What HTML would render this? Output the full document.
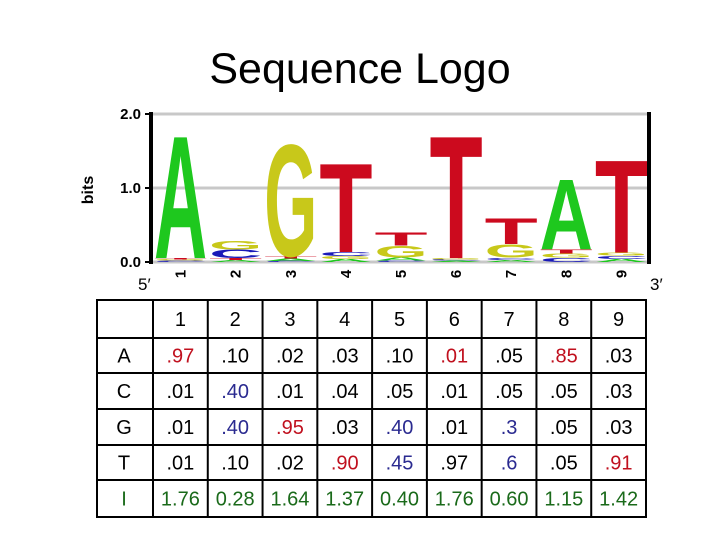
<!DOCTYPE html>
<html><head><meta charset="utf-8"><style>
body{margin:0;background:#fff;}
svg{display:block;font-family:"Liberation Sans",sans-serif;}
</style></head><body>
<svg width="720" height="540" viewBox="0 0 720 540">
<text x="360" y="83" font-size="43" text-anchor="middle">Sequence Logo</text>
<g id="logo"></g>
<g id="table"></g>
</svg>
<script>
const positions = ["1","2","3","4","5","6","7","8","9"];
const bases = ["A","C","G","T"];
const probA = [0.97,0.10,0.02,0.03,0.10,0.01,0.05,0.85,0.03];
const probC = [0.01,0.40,0.01,0.04,0.05,0.01,0.05,0.05,0.03];
const probG = [0.01,0.40,0.95,0.03,0.40,0.01,0.3,0.05,0.03];
const probT = [0.01,0.10,0.02,0.90,0.45,0.97,0.6,0.05,0.91];
const probLabA = [".97",".10",".02",".03",".10",".01",".05",".85",".03"];
const probLabC = [".01",".40",".01",".04",".05",".01",".05",".05",".03"];
const probLabG = [".01",".40",".95",".03",".40",".01",".3",".05",".03"];
const probLabT = [".01",".10",".02",".90",".45",".97",".6",".05",".91"];
const info = [1.76,0.28,1.64,1.37,0.40,1.76,0.60,1.15,1.42];
const infoLab = ["1.76","0.28","1.64","1.37","0.40","1.76","0.60","1.15","1.42"];
const yTicks = [0,1,2];
const yTickLab = ["0.0","1.0","2.0"];

const NS="http://www.w3.org/2000/svg";
function mk(tag,attrs,parent){const e=document.createElementNS(NS,tag);for(const k in attrs)e.setAttribute(k,attrs[k]);parent.appendChild(e);return e;}
const X0=153,X1=649,Y0=262,Y2=114;
const colW=(X1-X0)/positions.length;
const xC=i=>X0+colW*(i+0.5);
const yS=v=>Y0-(Y0-Y2)*v/2;
const logo=document.getElementById('logo');
const colors={A:"#1ec81e",C:"#1a1ab8",G:"#c8c81a",T:"#cc0a1e"};
const probs={A:probA,C:probC,G:probG,T:probT};

yTicks.forEach((t,i)=>{
  const g=mk('line',{x1:X0,x2:X1,y1:yS(t),y2:yS(t),stroke:"#c8c8c8","stroke-width":3},logo);
  
  
  const tk=mk('line',{x1:X0-8,x2:X0,y1:yS(t),y2:yS(t),stroke:"#000","stroke-width":2},logo);
  
  
  const tl=mk('text',{x:X0-12,y:yS(t)+5,"font-size":15,"font-weight":"bold","text-anchor":"end"},logo);
  tl.textContent=yTickLab[i];
  
  
});
positions.forEach((p,i)=>{
  const stack=bases.map(b=>({b,h:probs[b][i]*info[i]})).sort((a,c)=>a.h-c.h);
  let base=0;
  stack.forEach(s=>{
    const yb=yS(base), yt=yS(base+s.h);
    const h=yb-yt;
    if(h>0.3){
      const w=colW-2;
      const t=mk('text',{x:0,y:0,"font-size":100,"font-weight":"bold",textLength:70,lengthAdjust:"spacingAndGlyphs",fill:colors[s.b],
        transform:`translate(${xC(i)-w/2},${yb}) scale(${w/70},${h/72})`},logo);
      t.textContent=s.b;
      
      
    }
    base+=s.h;
  });
  const xl=mk('text',{x:0,y:0,"font-size":15,"font-weight":"bold","text-anchor":"middle",transform:`translate(${xC(i)+5},${Y0+12}) rotate(-90)`},logo);
  xl.textContent=p;
  
  
});
mk('line',{x1:X0-2,x2:X0-2,y1:Y2-2,y2:Y0+2,stroke:"#000","stroke-width":4},logo);
mk('line',{x1:X1,x2:X1,y1:Y2-2,y2:Y0+2,stroke:"#000","stroke-width":4},logo);
const yt=mk('text',{x:0,y:0,"font-size":16,"font-weight":"bold","text-anchor":"middle",transform:"translate(93,190) rotate(-90)"},logo);
yt.textContent="bits";


const f5=mk('text',{x:138,y:290,"font-size":17},logo);f5.textContent="5′";


const f3=mk('text',{x:650,y:290,"font-size":17},logo);f3.textContent="3′";



const tb=document.getElementById('table');
const TX0=97,TX1=646,TC0=153;
const rows=[300,338,373,409,445,480,517];
const tcw=(TX1-TC0)/9;
mk('rect',{x:TX0,y:rows[0],width:TX1-TX0,height:rows[6]-rows[0],fill:"none",stroke:"#000","stroke-width":2},tb);
rows.slice(1,6).forEach(y=>mk('line',{x1:TX0,x2:TX1,y1:y,y2:y,stroke:"#000","stroke-width":2},tb));
for(let j=0;j<9;j++){const x=TC0+tcw*j;mk('line',{x1:x,x2:x,y1:rows[0],y2:rows[6],stroke:"#000","stroke-width":2},tb);}
function cell(txt,cx,r,fill,name){
  const t=mk('text',{x:cx,y:(rows[r]+rows[r+1])/2+7,"font-size":20,"text-anchor":"middle",fill},tb);
  t.textContent=txt;
  
  
}
positions.forEach((p,j)=>cell(p,TC0+tcw*(j+0.5),0,"#000","column-header"));
const labs={A:probLabA,C:probLabC,G:probLabG,T:probLabT};
const red={A:[0,5,7],C:[],G:[2],T:[3,8]};
const blue={A:[],C:[1],G:[1,4,6],T:[4,6]};
bases.forEach((b,r)=>{
  cell(b,TX0+27,r+1,"#000","row-label");
  labs[b].forEach((v,j)=>{
    const col=red[b].includes(j)?"#c0101e":blue[b].includes(j)?"#2a2a90":"#000";
    cell(v,TC0+tcw*(j+0.5),r+1,col,"prob-cell");
  });
});
cell("I",TX0+27,5,"#1a6a1a","info-row-label");
infoLab.forEach((v,j)=>cell(v,TC0+tcw*(j+0.5),5,"#1a6a1a","info-cell"));
</script>
</body></html>
